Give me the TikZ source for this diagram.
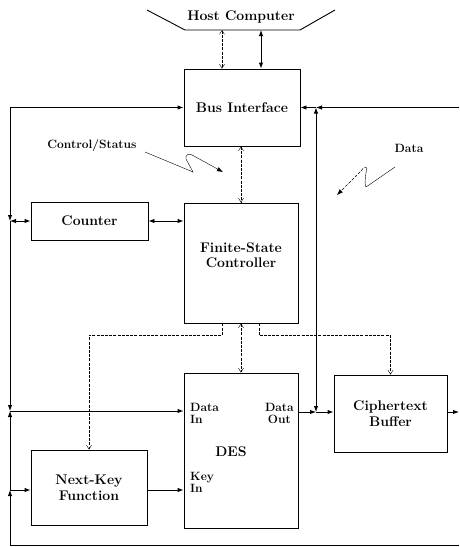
\documentclass[tikz,border=0pt]{standalone}
\usepackage{tikz}
\usetikzlibrary{arrows.meta,positioning,calc}

\begin{document}
\begin{tikzpicture}[x=1pt, y=-1pt,
  unit/.style={draw, line width=0.9pt, inner sep=0pt, font=\fontsize{14}{15.5}\selectfont\bfseries,
               align=center},
  lbl/.style={font=\fontsize{12}{12}\selectfont\bfseries, align=left, inner sep=0pt},
  arr/.style={-{Latex[length=6pt,width=4.5pt]}, line width=0.9pt},
  arr2/.style={{Latex[length=6pt,width=4.5pt]}-{Latex[length=6pt,width=4.5pt]}, line width=0.9pt},
  ctl/.style={-{Straight Barb[length=4pt,width=5pt]}, thin, dash pattern=on 3pt off 1.2pt},
  ctl2/.style={{Straight Barb[length=4pt,width=5pt]}-{Straight Barb[length=4pt,width=5pt]}, thin,
               dash pattern=on 3pt off 1.2pt}
]
\useasboundingbox (0,0) rectangle (459,547);

\node[unit, minimum width=116pt, minimum height=77pt] (bus)     at (242,107.5) {Bus Interface};
\node[unit, minimum width=117pt, minimum height=38pt] (counter) at (89.5,221) {Counter};
\node[unit, minimum width=114pt, minimum height=120pt,
      text depth=16pt] (fsc) at (241,263) {Finite-State\\Controller};
\node[unit, minimum width=114pt, minimum height=155pt] (des)    at (241,450.5) {};
\node[unit, minimum width=113pt, minimum height=77pt] (cbuf)    at (390.5,413.5) {Ciphertext\\Buffer};
\node[unit, minimum width=116pt, minimum height=75pt] (nkf)     at (89,487.5) {Next-Key\\Function};

\node[unit, draw=none] (deslbl) at (231,452) {DES};
\node[lbl, anchor=west] (din)  at (190,413) {Data\\In};
\node[lbl, anchor=east, align=center] (dout) at (294,413) {Data\\Out};
\node[lbl, anchor=west] (kin)  at (190,482) {Key\\In};

% host computer
\draw[line width=0.9pt] (147,10) -- (185,30) -- (300,30) -- (335,10);
\node[unit, draw=none] (host) at (241,17) {Host Computer};
\coordinate (hc) at (261,30);
\coordinate (hs) at (222,30);
\draw[arr2] (hc) -- (hc|-bus.north);
\draw[ctl2] (hs) -- (hs|-bus.north);

% left loop
\coordinate (lt) at (10,107.5);
\coordinate (lc) at (10,221);
\coordinate (ld) at (10,411);
\coordinate (lk) at (10,490);
\coordinate (lb) at (10,545);
\coordinate (rb) at (459,545);
\draw[arr] (lt) -- (bus.west);
\draw[arr] (lt) -- (lc);
\draw[arr] (lc) -- (ld);
\draw[arr2] (counter.west) -- (lc);
\draw[arr] (rb) -- (lb) -- (lk);
\draw[arr] (lk) -- (ld);
\draw[arr] (lk) -- (nkf.west|-lk);
\draw[arr] (ld) -- (des.west|-ld);

\draw[arr2] (counter.east) -- (fsc.west|-counter.east);
\draw[arr] (nkf.east|-lk) -- (des.west|-lk);

% right side
\coordinate (rt) at (459,107.5);
\coordinate (rj) at (316,107.5);
\coordinate (dj) at (316,412);
\draw[arr] (rt) -- (rj);
\draw[arr] (rj) -- (bus.east);
\draw[arr2] (rj) -- (dj);
\draw[arr] (des.east|-dj) -- (dj);
\draw[arr] (dj) -- (cbuf.west|-dj);
\draw[arr] (cbuf.east|-dj) -- (459,412);

% control lines
\draw[ctl2] (fsc.north|-bus.south) -- (fsc.north);
\draw[ctl2] (fsc.south) -- (des.north);
\draw[ctl] ([xshift=-19]fsc.south) -- ++(0,12) -| (nkf.north);
\draw[ctl] ([xshift=18]fsc.south) -- ++(0,12) -| (cbuf.north);

% labels
\node[lbl] (cs) at (92,145) {Control/Status};
\node[lbl] (dt) at (409,148) {Data};
\draw[-{Latex[length=6pt,width=4.5pt]}, thin] (145,152) -- (193,172)
  -- (186,159) .. controls (185,155) and (189,153) .. (192,155) -- (223,172);
\draw[thin] (395,167) -- (366,187)
  .. controls (364,184) and (366,172) .. (367,168);
\draw[-{Latex[length=6pt,width=4.5pt]}, thin, dash pattern=on 3pt off 1.5pt] (367,168)
  .. controls (366,166) and (363,167) .. (362,170) -- (337,195);
\end{tikzpicture}
\end{document}
